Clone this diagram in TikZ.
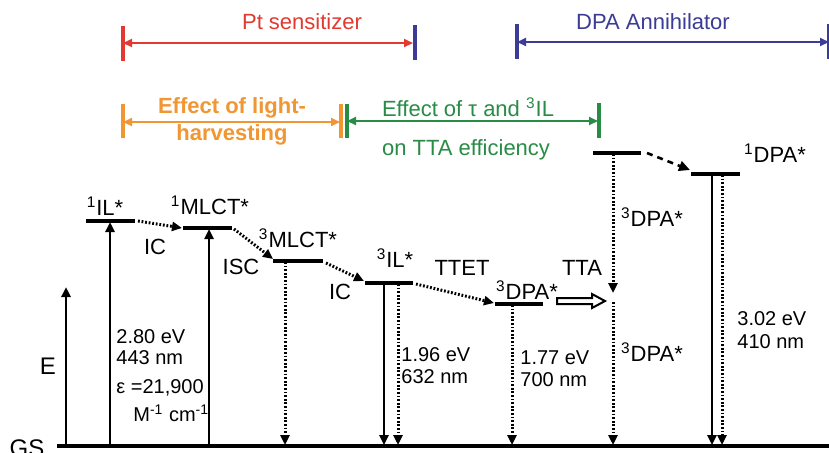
\documentclass[tikz,border=0pt]{standalone}
\usepackage{fontspec}
\setmainfont{Liberation Sans}
\usetikzlibrary{arrows.meta}
\definecolor{cred}{RGB}{226,58,48}
\definecolor{corange}{RGB}{240,150,50}
\definecolor{cgreen}{RGB}{40,140,70}
\definecolor{cblue}{RGB}{60,60,150}
\tikzset{
  lvl/.style={line width=1.7pt},
  solidarr/.style={line width=1.2pt,-{Triangle[length=5pt,width=4.5pt]}},
  dotarr/.style={line width=1.5pt,dash pattern=on 0.9pt off 0.9pt,-{Triangle[length=5pt,width=4.5pt]}},
  dasharr/.style={line width=1.3pt,dash pattern=on 3pt off 2.5pt,-{Triangle[length=5.5pt,width=5pt]}},
  lbl/.style={font=\fontsize{11}{12}\selectfont, inner sep=0pt},
  num/.style={font=\fontsize{10}{11.5}\selectfont, inner sep=0pt, anchor=west},
  rng/.style={line width=1pt,{Triangle[length=4.5pt,width=4pt]}-{Triangle[length=4.5pt,width=4pt]}},
  tick/.style={line width=1.6pt},
}
\begin{document}
\begin{tikzpicture}[x=0.5pt,y=-0.5pt]
\useasboundingbox (0,0) rectangle (829,452);
\fill[white] (0,0) rectangle (829,452);

% ---- top range bars ----
\coordinate (r1) at (123,43); \coordinate (r2) at (413,43);
\draw[tick,cred] (123,26) -- (123,61);
\draw[rng,cred] (r1) -- (r2);
\node[lbl,text=cred] (tpt) at (302,22) {Pt sensitizer};

\coordinate (b1) at (517,42); \coordinate (b2) at (829,42);
\draw[tick,cblue] (415,25) -- (415,60);
\draw[tick,cblue] (517,24) -- (517,59);
\draw[tick,cblue] (829,24) -- (829,59);
\draw[rng,cblue] (b1) -- (b2);
\node[lbl,text=cblue] (tdpa) at (653,22) {DPA Annihilator};

\coordinate (o1) at (123,122); \coordinate (o2) at (340,122);
\draw[tick,corange] (123,104) -- (123,138);
\draw[tick,corange] (341,104) -- (341,138);
\draw[rng,corange] (o1) -- (o2);
\node[lbl,text=corange,font=\fontsize{11}{12}\selectfont\bfseries] (tlh1) at (232,108) {Effect of light-};
\node[lbl,text=corange,font=\fontsize{11}{12}\selectfont\bfseries] (tlh2) at (232,135) {harvesting};

\coordinate (g1) at (347,121); \coordinate (g2) at (598,121);
\draw[tick,cgreen] (347,104) -- (347,138);
\draw[tick,cgreen] (599,103) -- (599,138);
\draw[rng,cgreen] (g1) -- (g2);
\node[lbl,text=cgreen] (tef1) at (468,107) {Effect of τ and \textsuperscript{3}IL};
\node[lbl,text=cgreen] (tef2) at (466,150) {on TTA efficiency};

% ---- ground state ----
\coordinate (gsL) at (57,446); \coordinate (gsR) at (829,446);
\draw[line width=1.7pt] (gsL) -- (gsR);
\node[lbl,font=\fontsize{12}{13}\selectfont] (gs) at (27,448) {GS};

% ---- energy axis ----
\coordinate (e0) at (66,446); \coordinate (e1) at (66,287);
\draw[solidarr] (e0) -- (e1);
\node[lbl,font=\fontsize{12}{13}\selectfont] (elab) at (48,366) {E};

% ---- levels ----
\coordinate (IL1a) at (86,221);  \coordinate (IL1b) at (135,221);
\coordinate (ML1a) at (183,228); \coordinate (ML1b) at (232,228);
\coordinate (ML3a) at (273,261); \coordinate (ML3b) at (323,261);
\coordinate (IL3a) at (365,283); \coordinate (IL3b) at (413,283);
\coordinate (D3a) at (495,304);  \coordinate (D3b) at (543,304);
\coordinate (D3ua) at (593,153); \coordinate (D3ub) at (641,153);
\coordinate (D1a) at (691,174);  \coordinate (D1b) at (740,174);
\foreach \a/\b in {IL1a/IL1b,ML1a/ML1b,ML3a/ML3b,IL3a/IL3b,D3a/D3b,D3ua/D3ub,D1a/D1b}
  \draw[lvl] (\a) -- (\b);

% level labels
\node[lbl] (l1) at (105,206) {\textsuperscript{1}IL*};
\node[lbl] (l2) at (210,205) {\textsuperscript{1}MLCT*};
\node[lbl] (l3) at (298,238) {\textsuperscript{3}MLCT*};
\node[lbl] (l4) at (395,258) {\textsuperscript{3}IL*};
\node[lbl] (l5) at (527,290) {\textsuperscript{3}DPA*};
\node[lbl] (l6) at (652,217) {\textsuperscript{3}DPA*};
\node[lbl] (l7) at (652,352) {\textsuperscript{3}DPA*};
\node[lbl] (l8) at (775,153) {\textsuperscript{1}DPA*};
\node[lbl] (ic1) at (155,247) {IC};
\node[lbl] (isc) at (241,267) {ISC};
\node[lbl] (ic2) at (340,292) {IC};
\node[lbl] (ttet) at (462,268) {TTET};
\node[lbl] (tta) at (582,268) {TTA};

% ---- absorption arrows ----
\coordinate (a1s) at (110,446); \coordinate (a1e) at (110,222);
\coordinate (a2s) at (209,446); \coordinate (a2e) at (209,229);
\draw[solidarr] (a1s) -- (a1e);
\draw[solidarr] (a2s) -- (a2e);

% ---- relaxation arrows ----
\coordinate (c1s) at (138,221); \coordinate (c1e) at (182,228);
\coordinate (c2s) at (234,229); \coordinate (c2e) at (273,259);
\coordinate (c3s) at (326,263); \coordinate (c3e) at (364,281);
\coordinate (c4s) at (416,284); \coordinate (c4e) at (494,303);
\draw[dotarr] (c1s) -- (c1e);
\draw[dotarr] (c2s) -- (c2e);
\draw[dotarr] (c3s) -- (c3e);
\draw[dotarr] (c4s) -- (c4e);

% ---- decay arrows ----
\coordinate (d1s) at (285,262); \coordinate (d1e) at (285,445);
\coordinate (d2s) at (384,284); \coordinate (d2e) at (384,445);
\coordinate (d3s) at (398,284); \coordinate (d3e) at (398,445);
\coordinate (d4s) at (512,305); \coordinate (d4e) at (512,445);
\coordinate (d5s) at (613,154); \coordinate (d5e) at (613,293);
\coordinate (d6s) at (613,302); \coordinate (d6e) at (613,445);
\coordinate (d7s) at (712,175); \coordinate (d7e) at (712,445);
\coordinate (d8s) at (722,175); \coordinate (d8e) at (722,445);
\draw[dotarr] (d1s) -- (d1e);
\draw[solidarr] (d2s) -- (d2e);
\draw[dotarr] (d3s) -- (d3e);
\draw[dotarr] (d4s) -- (d4e);
\draw[dotarr] (d5s) -- (d5e);
\draw[dotarr] (d6s) -- (d6e);
\draw[solidarr] (d7s) -- (d7e);
\draw[dotarr] (d8s) -- (d8e);

% dashed 3DPA -> 1DPA
\coordinate (u1) at (647,153); \coordinate (u2) at (690,170);
\draw[dasharr] (u1) -- (u2);

% hollow TTA arrow
\draw[line width=1pt,fill=white,line join=miter]
  (557,298) -- (592,298) -- (592,294) -- (605,301) -- (592,308) -- (592,304) -- (557,304) -- cycle;

% ---- numbers ----
\node[num] (n1) at (116,337) {2.80 eV};
\node[num] (n2) at (116,358) {443 nm};
\node[num] (n3) at (116,388) {ε =21,900};
\node[num] (n4) at (133,413) {M\textsuperscript{-1} cm\textsuperscript{-1}};
\node[num] (n5) at (401,355) {1.96 eV};
\node[num] (n6) at (401,377) {632 nm};
\node[num] (n7) at (520,358) {1.77 eV};
\node[num] (n8) at (520,380) {700 nm};
\node[num] (n9) at (737,319) {3.02 eV};
\node[num] (n10) at (737,342) {410 nm};
\end{tikzpicture}
\end{document}
